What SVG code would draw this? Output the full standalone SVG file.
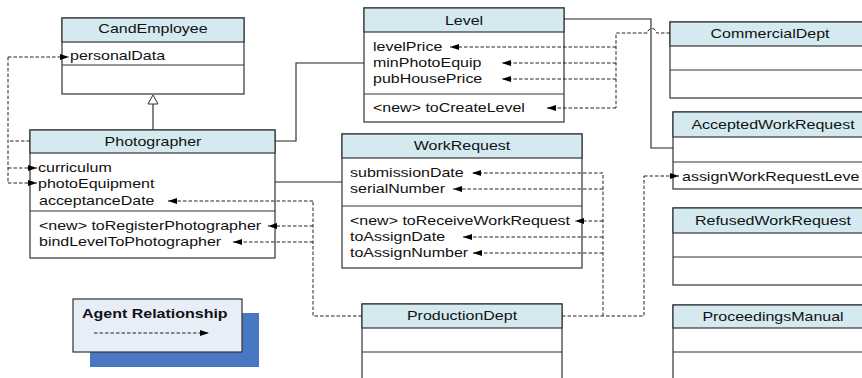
<svg xmlns="http://www.w3.org/2000/svg" width="862" height="378" viewBox="0 0 862 378">
<style>
.t{font-family:"Liberation Sans",Arial,sans-serif;font-size:13px;fill:#111}
.c{text-anchor:middle}
.b{font-weight:bold}
.box{fill:#fff;stroke:#333;stroke-width:1.2}
.hd{fill:#d4eaf0;stroke:#333;stroke-width:1.2}
.ln{stroke:#333;stroke-width:1.2;fill:none}
.sl{stroke:#222;stroke-width:1.1;fill:none}
.ds{stroke:#222;stroke-width:1;fill:none;stroke-dasharray:3.5 2}
.da{stroke:#222;stroke-width:1;fill:none;stroke-dasharray:3.5 2;marker-end:url(#ah)}
</style>
<defs>
<marker id="ah" viewBox="0 0 9 6" refX="9" refY="3" markerWidth="9" markerHeight="6" orient="auto" markerUnits="userSpaceOnUse">
<path d="M0,0 L9,3 L0,6 z" fill="#000"/>
</marker>
</defs>
<rect width="862" height="378" fill="#fff"/>

<g id="CandEmployee">
<rect class="box" x="62" y="18" width="182" height="76"/>
<rect class="hd" x="62" y="18" width="182" height="24"/>
<path class="ln" d="M62,65 H244"/>
<text class="t c" transform="translate(153 33) scale(1.23 1)">CandEmployee</text>
<text class="t" transform="translate(70 60) scale(1.23 1)">personalData</text>
</g>

<g id="Photographer">
<rect class="box" x="30" y="130" width="245" height="128"/>
<rect class="hd" x="30" y="130" width="245" height="23"/>
<path class="ln" d="M30,211 H275"/>
<text class="t c" transform="translate(153 146) scale(1.23 1)">Photographer</text>
<text class="t" transform="translate(38 172) scale(1.23 1)">curriculum</text>
<text class="t" transform="translate(38 188) scale(1.23 1)">photoEquipment</text>
<text class="t" transform="translate(39 205) scale(1.23 1)">acceptanceDate</text>
<text class="t" transform="translate(39 230) scale(1.23 1)">&lt;new&gt; toRegisterPhotographer</text>
<text class="t" transform="translate(39 246) scale(1.23 1)">bindLevelToPhotographer</text>
</g>

<g id="Level">
<rect class="box" x="364" y="8" width="200" height="114"/>
<rect class="hd" x="364" y="8" width="200" height="24"/>
<path class="ln" d="M364,94 H564"/>
<text class="t c" transform="translate(464 25) scale(1.23 1)">Level</text>
<text class="t" transform="translate(373 51) scale(1.23 1)">levelPrice</text>
<text class="t" transform="translate(373 67) scale(1.23 1)">minPhotoEquip</text>
<text class="t" transform="translate(373 83) scale(1.23 1)">pubHousePrice</text>
<text class="t" transform="translate(373 112) scale(1.23 1)">&lt;new&gt; toCreateLevel</text>
</g>

<g id="CommercialDept">
<rect class="box" x="670" y="22" width="210" height="76"/>
<rect class="hd" x="670" y="22" width="210" height="24"/>
<path class="ln" d="M670,70 H880"/>
<text class="t c" transform="translate(770 38) scale(1.23 1)">CommercialDept</text>
</g>

<g id="AcceptedWorkRequest">
<rect class="box" x="673" y="112" width="210" height="77"/>
<rect class="hd" x="673" y="112" width="210" height="25"/>
<path class="ln" d="M673,162 H883"/>
<text class="t c" transform="translate(773 129) scale(1.23 1)">AcceptedWorkRequest</text>
<text class="t" transform="translate(682 181) scale(1.23 1)">assignWorkRequestLeve</text>
</g>

<g id="RefusedWorkRequest">
<rect class="box" x="673" y="208" width="210" height="77"/>
<rect class="hd" x="673" y="208" width="210" height="25"/>
<path class="ln" d="M673,257 H883"/>
<text class="t c" transform="translate(773 225) scale(1.23 1)">RefusedWorkRequest</text>
</g>

<g id="ProceedingsManual">
<rect class="box" x="673" y="305" width="210" height="90"/>
<rect class="hd" x="673" y="305" width="210" height="23"/>
<path class="ln" d="M673,352 H883"/>
<text class="t c" transform="translate(773 321) scale(1.23 1)">ProceedingsManual</text>
</g>

<g id="WorkRequest">
<rect class="box" x="342" y="134" width="240" height="134"/>
<rect class="hd" x="342" y="134" width="240" height="24"/>
<path class="ln" d="M342,206 H582"/>
<text class="t c" transform="translate(462 150) scale(1.23 1)">WorkRequest</text>
<text class="t" transform="translate(350 177) scale(1.23 1)">submissionDate</text>
<text class="t" transform="translate(350 193) scale(1.23 1)">serialNumber</text>
<text class="t" transform="translate(350 225) scale(1.23 1)">&lt;new&gt; toReceiveWorkRequest</text>
<text class="t" transform="translate(350 241) scale(1.23 1)">toAssignDate</text>
<text class="t" transform="translate(350 257) scale(1.23 1)">toAssignNumber</text>
</g>

<g id="ProductionDept">
<rect class="box" x="362" y="304" width="200" height="90"/>
<rect class="hd" x="362" y="304" width="200" height="24"/>
<path class="ln" d="M362,352 H562"/>
<text class="t c" transform="translate(462 320) scale(1.23 1)">ProductionDept</text>
</g>

<g id="Legend">
<rect x="90" y="313" width="169" height="54" fill="#4a77c1"/>
<rect x="73" y="299" width="169" height="53" fill="#e8eef8" stroke="#333" stroke-width="1.2"/>
<text class="t b" transform="translate(82 318) scale(1.23 1)">Agent Relationship</text>
<path class="da" d="M94,333 H209"/>
</g>

<g id="connectors">
<path class="sl" d="M153,130 V104"/>
<polygon points="153,95 148,104 158,104" fill="#fff" stroke="#333" stroke-width="1"/>
<path class="sl" d="M275,141 H296 V63 H364"/>
<path class="sl" d="M275,182 H342"/>
<path class="sl" d="M564,19 H651 V148 H673"/>
<path class="ds" d="M30,141 H8" stroke-width="1.6"/>
<path class="ds" d="M8,57 V183"/>
<path class="da" d="M8,57 H69"/>
<path class="da" d="M8,168 H37"/>
<path class="da" d="M8,183 H37"/>
<path class="ds" d="M670,33 H656.5 A4.5,4.5 0 0 0 647.5,33 H616 V108"/>
<path class="da" d="M616,47 H450"/>
<path class="da" d="M616,63 H502"/>
<path class="da" d="M616,79 H502"/>
<path class="da" d="M616,108 H547"/>
<path class="ds" d="M362,316 H313 V201"/>
<path class="da" d="M313,201 H168"/>
<path class="da" d="M313,226 H268"/>
<path class="da" d="M313,242 H233"/>
<path class="ds" d="M562,316 H644 V176"/>
<path class="da" d="M644,176 H679"/>
<path class="ds" d="M603,316 V173"/>
<path class="da" d="M603,173 H472"/>
<path class="da" d="M603,189 H453"/>
<path class="da" d="M603,221 H575"/>
<path class="da" d="M603,237 H463"/>
<path class="da" d="M603,253 H473"/>
</g>
</svg>
